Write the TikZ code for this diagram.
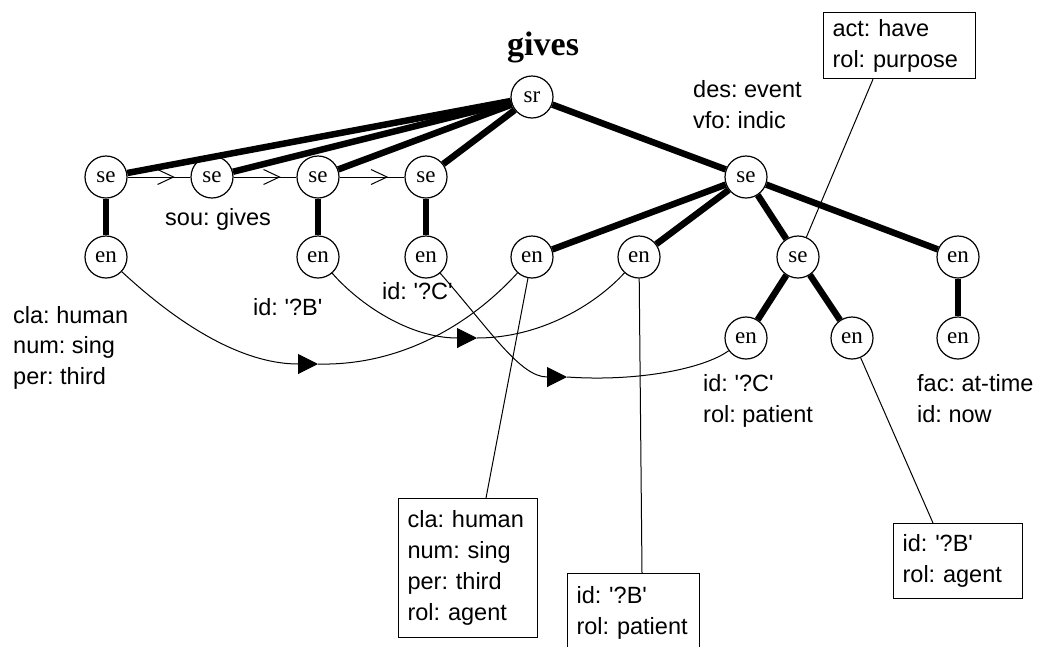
\documentclass[tikz,border=0pt]{standalone}
\usepackage{fontspec}
\setmainfont{Liberation Serif}
\newfontfamily\labfont{Liberation Sans}
\usetikzlibrary{arrows.meta,decorations.markings}
\begin{document}
\frenchspacing
\begin{tikzpicture}[x=1pt,y=-1pt,
  nd/.style={circle, draw, line width=1.2pt, minimum size=42pt, inner sep=0pt, font=\fontsize{23}{23}\selectfont},
  thickedge/.style={line width=6.5pt},
  stemedge/.style={line width=5.5pt},
  thinedge/.style={line width=1pt},
  lbl/.style={anchor=base west, inner sep=0pt, align=left, font=\labfont\frenchspacing\fontsize{23.5}{30.5}\selectfont},
  fbox/.style={draw, line width=1.2pt, anchor=north west, align=left, inner xsep=9pt, inner ysep=0pt, font=\labfont\frenchspacing\fontsize{23.5}{31}\selectfont},
  seqarrow/.style={thinedge, postaction={decorate}, decoration={markings, mark=at position 0.75 with {\arrow{Straight Barb[length=16pt,width=15pt,line width=1pt]}}}},
  tri/.style={-{Triangle[length=20pt,width=20pt]}}
]
\useasboundingbox (0,0) rectangle (1038,646);

% title
\node[anchor=base west, inner sep=0pt, font=\bfseries\fontsize{34}{34}\selectfont] (title) at (507,55) {gives};

% nodes
\node[nd] (sr) at (532,97) {sr};
\node[nd] (se1) at (106,177) {se};
\node[nd] (se2) at (212,177) {se};
\node[nd] (se3) at (318,177) {se};
\node[nd] (se4) at (426,177) {se};
\node[nd] (en1) at (106,257) {en};
\node[nd] (en3) at (318,257) {en};
\node[nd] (en4) at (426,257) {en};
\node[nd] (seM) at (746,177) {se};
\node[nd] (en5) at (532,257) {en};
\node[nd] (en6) at (639,257) {en};
\node[nd] (seS) at (798,257) {se};
\node[nd] (enR) at (958,257) {en};
\node[nd] (enA) at (746,338) {en};
\node[nd] (enB) at (852,338) {en};
\node[nd] (enC) at (958,338) {en};

% thick edges
\draw[thickedge] (sr) -- (se1);
\draw[thickedge] (sr) -- (se2);
\draw[thickedge] (sr) -- (se3);
\draw[thickedge] (sr) -- (se4);
\draw[thickedge] (sr) -- (seM);
\draw[stemedge] (se1) -- (en1);
\draw[stemedge] (se3) -- (en3);
\draw[stemedge] (se4) -- (en4);
\draw[thickedge] (seM) -- (en5);
\draw[thickedge] (seM) -- (en6);
\draw[thickedge] (seM) -- (seS);
\draw[thickedge] (seM) -- (enR);
\draw[thickedge] (seS) -- (enA);
\draw[thickedge] (seS) -- (enB);
\draw[stemedge] (enR) -- (enC);

% sequence arrows
\draw[seqarrow] (se1) -- (se2);
\draw[seqarrow] (se2) -- (se3);
\draw[seqarrow] (se3) -- (se4);

% coreference curves
\coordinate (A) at (318,364);
\coordinate (B) at (477,338);
\coordinate (C) at (567,377);
\draw[thinedge,tri] (en1) .. controls (190,335) and (250,364) .. (A);
\draw[thinedge] (A) .. controls (400,366) and (470,325) .. (en5);
\draw[thinedge,tri] (en3) .. controls (360,305) and (410,338) .. (B);
\draw[thinedge] (B) .. controls (540,338) and (595,305) .. (en6);
\draw[thinedge,tri] (en4) .. controls (490,330) and (520,377) .. (C);
\draw[thinedge] (C) .. controls (640,382) and (705,368) .. (enA);

% text labels (base = last line's baseline)
\node[lbl] (lblL) at (13,384) {cla: human\\num: sing\\per: third};
\node[lbl] (lblsou) at (165,225) {sou: gives};
\node[lbl] (lblidB) at (253,315) {id: \textquotesingle?B\textquotesingle};
\node[lbl] (lblidC) at (382,299) {id: \textquotesingle?C\textquotesingle};
\node[lbl] (lbldes) at (693,128) {des: event\\vfo: indic};
\node[lbl] (lblpat) at (703,422) {id: \textquotesingle?C\textquotesingle\\rol: patient};
\node[lbl] (lblfac) at (917,422) {fac: at-time\\id: now};

% boxes
\node[fbox, text width=121pt, minimum height=139pt] (box1) at (398,498) {cla: human\\num: sing\\per: third\\rol: agent};
\node[fbox, text width=114pt, minimum height=78pt] (box2) at (567,573) {id: \textquotesingle?B\textquotesingle\\rol: patient};
\node[fbox, text width=111pt, minimum height=75pt] (box3) at (893,523) {id: \textquotesingle?B\textquotesingle\\rol: agent};
\node[fbox, text width=134pt, minimum height=66pt] (box4) at (823,12) {act: have\\rol: purpose};

% box connectors
\draw[thinedge] (en5) -- ([xshift=88pt]box1.north west);
\draw[thinedge] (en6) -- ([xshift=75pt]box2.north west);
\draw[thinedge] (enB) -- ([xshift=40pt]box3.north west);
\draw[thinedge] (seS) -- ([xshift=50pt]box4.south west);
\end{tikzpicture}
\end{document}
